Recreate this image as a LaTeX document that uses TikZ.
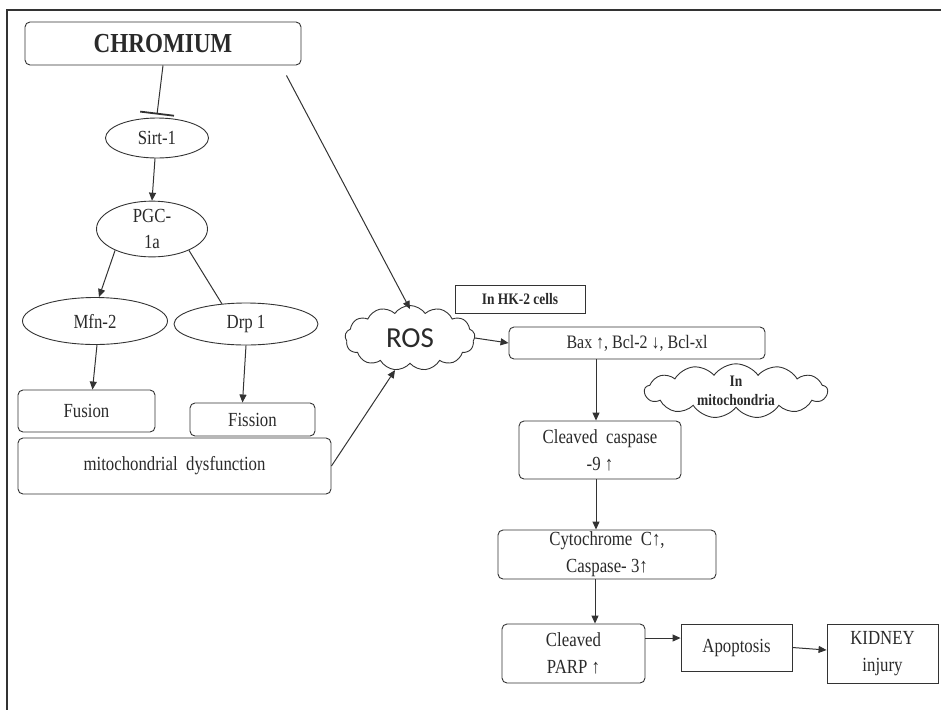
\documentclass[tikz,border=0pt]{standalone}
\usepackage{fontspec}
\setmainfont{Liberation Serif}[FakeStretch=0.84]
\newfontfamily\rosfont{Carlito}
\usetikzlibrary{shapes.geometric,shapes.symbols,arrows.meta}
\definecolor{ink}{HTML}{2A2A2A}
\definecolor{edge}{HTML}{333333}
\tikzset{
  base/.style={draw=edge,line width=0.9pt,text=ink,align=center,inner sep=0pt,
    font=\fontsize{20}{27}\selectfont},
  rbox/.style={base,rectangle,rounded corners=5pt},
  sbox/.style={base,rectangle},
  oval/.style={base,ellipse},
  puff/.style={base,cloud,cloud puffs=13,cloud puff arc=110,cloud ignores aspect},
  conn/.style={draw=edge,line width=1pt,-{Triangle[length=8pt,width=7pt]}},
  plain/.style={draw=edge,line width=1pt},
  inhib/.style={draw=edge,line width=1pt,-{Bar[width=34pt,line width=1.8pt]}},
}
\begin{document}
\begin{tikzpicture}[x=1pt,y=-1pt]
\useasboundingbox (0,0) rectangle (941,710);
\draw[line width=1.8pt,draw=edge] (941,10) -- (7,10) -- (7,710);

\node[rbox,minimum width=276pt,minimum height=43pt,font=\fontsize{27.5}{30}\selectfont\bfseries] (chrom) at (163,43.5) {CHROMIUM};
\node[oval,minimum width=103pt,minimum height=40pt] (sirt) at (157,138) {Sirt-1};
\node[oval,minimum width=111pt,minimum height=55pt,font=\fontsize{20}{26}\selectfont] (pgc) at (152,229) {PGC-\\1a};
\node[oval,minimum width=145pt,minimum height=47pt] (mfn) at (95,321) {Mfn-2};
\node[oval,minimum width=144pt,minimum height=42pt] (drp) at (246,324) {Drp 1};
\node[rbox,minimum width=137pt,minimum height=42pt] (fusion) at (86.5,411) {Fusion};
\node[rbox,minimum width=125pt,minimum height=33pt] (fission) at (252.5,419.5) {Fission};
\node[rbox,minimum width=313pt,minimum height=56pt] (mito) at (174.5,466) {mitochondrial\ \ dysfunction};

\node[puff,minimum width=130pt,minimum height=65pt,font=\fontsize{29}{32}\rosfont] (ros) at (410,338) {ROS};
\node[sbox,minimum width=130pt,minimum height=28pt,font=\fontsize{16}{18}\selectfont\bfseries] (hk) at (520,299) {In HK-2 cells};
\node[rbox,minimum width=256pt,minimum height=32pt,font=\fontsize{19}{22}\selectfont] (bax) at (637,343) {Bax ↑, Bcl-2 ↓, Bcl-xl};
\node[puff,minimum width=183pt,minimum height=42pt,font=\fontsize{16}{19}\selectfont\bfseries] (mitoc) at (736,391) {In\\mitochondria};
\node[rbox,minimum width=162pt,minimum height=58pt] (casp) at (600,450) {Cleaved\ \ caspase\\-9 ↑};
\node[rbox,minimum width=218pt,minimum height=49pt] (cyto) at (607,554.5) {Cytochrome\ \ C↑,\\Caspase- 3↑};
\node[rbox,minimum width=143pt,minimum height=59pt] (parp) at (573.5,653.5) {Cleaved\\PARP ↑};
\node[sbox,minimum width=111pt,minimum height=47pt] (apop) at (736.5,647.5) {Apoptosis};
\node[sbox,minimum width=111pt,minimum height=59pt] (kid) at (882.5,653.5) {KIDNEY\\injury};

\draw[inhib] (chrom.south) -- ([yshift=3pt]sirt.north);
\draw[conn] ([xshift=-2pt]sirt.south) -- (pgc.north);
\draw[conn] (pgc.210) -- ([xshift=4pt]mfn.north);
\draw[plain] (pgc.-30) -- (drp.140);
\draw[conn] ([xshift=2pt]mfn.south) -- ([xshift=6pt]fusion.north);
\draw[conn] (drp.south) -- ([xshift=-10pt]fission.north);
\draw[conn] (mito.east) -- (ros.245);
\draw[conn] ([xshift=-15pt,yshift=-10pt]chrom.south east) -- ([yshift=-4pt]ros.north);
\draw[conn] (ros.east) -- (bax.west);
\draw[conn] ([xshift=-41pt]bax.south) -- ([xshift=-4pt]casp.north);
\draw[conn] ([xshift=-4pt]casp.south) -- ([xshift=-11pt]cyto.north);
\draw[conn] ([xshift=-12pt]cyto.south) -- ([xshift=21.5pt]parp.north);
\draw[conn] ([yshift=15.5pt]parp.east) -- ([yshift=9.5pt]apop.west);
\draw[conn] (apop.east) -- ([yshift=3.5pt]kid.west);
\end{tikzpicture}
\end{document}
